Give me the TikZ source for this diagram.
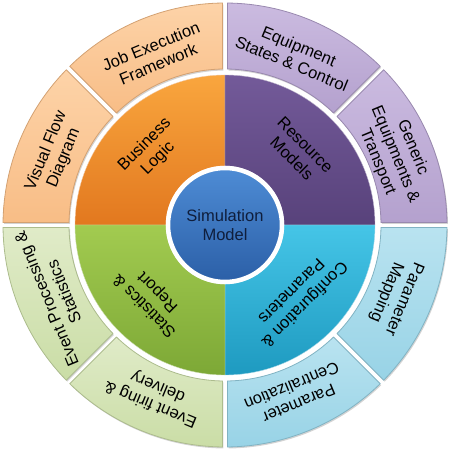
\documentclass[tikz,border=0pt]{standalone}
\usepackage{fontspec}
\setmainfont{Liberation Sans}
\usetikzlibrary{shadows}
\definecolor{OrangeTop}{HTML}{F9A63E}
\definecolor{OrangeBot}{HTML}{E2781F}
\definecolor{PurpleTop}{HTML}{735A99}
\definecolor{PurpleBot}{HTML}{58427B}
\definecolor{CyanTop}{HTML}{45C5E7}
\definecolor{CyanBot}{HTML}{1E9AC0}
\definecolor{GreenTop}{HTML}{A2CB50}
\definecolor{GreenBot}{HTML}{7DA836}
\definecolor{PeachTop}{HTML}{FDD3A8}
\definecolor{PeachBot}{HTML}{F8BD86}
\definecolor{LavTop}{HTML}{CBBBE0}
\definecolor{LavBot}{HTML}{B4A1CE}
\definecolor{SkyTop}{HTML}{B9E3F0}
\definecolor{SkyBot}{HTML}{98D3E6}
\definecolor{LimeTop}{HTML}{E0EBC8}
\definecolor{LimeBot}{HTML}{CADDA6}
\definecolor{CoreTop}{HTML}{4E8CD5}
\definecolor{CoreBot}{HTML}{2B5FA7}
\definecolor{CoreText}{HTML}{0F1E3C}
\tikzset{
  ringtext/.style={
    font=\fontsize{16.5}{19}\selectfont,
    align=center,
    text=black},
  coretext/.style={
    ringtext,
    text=CoreText},
  innerseg/.style={
    draw=white!60!#1, line width=0.4pt},
  outerseg/.style={
    draw=#1, line width=0.8pt,
    drop shadow={shadow xshift=1pt, shadow yshift=-1.5pt, opacity=0.35}},
}
\begin{document}
\begin{tikzpicture}[x=1pt,y=1pt]
  \useasboundingbox (-225,-225) rectangle (225,225);
  % middle ring, four quadrants
  \foreach \a/\ct/\cb in {90/OrangeTop/OrangeBot, 0/PurpleTop/PurpleBot,
      270/CyanTop/CyanBot, 180/GreenTop/GreenBot}
    \shade[top color=\ct, bottom color=\cb, innerseg=\cb]
      (\a:150) arc[start angle=\a, end angle=\a+90, radius=150]
      -- ({\a+90}:59) arc[start angle=\a+90, end angle=\a, radius=59] -- cycle;
  % outer ring, eight segments
  \foreach \a/\ct/\cb in {90/PeachTop/PeachBot, 135/PeachTop/PeachBot,
      0/LavTop/LavBot, 45/LavTop/LavBot,
      270/SkyTop/SkyBot, 315/SkyTop/SkyBot,
      180/LimeTop/LimeBot, 225/LimeTop/LimeBot}
    \shade[top color=\ct, bottom color=\cb, outerseg=\cb!85!black]
      ({\a+0.65}:222) arc[start angle=\a+0.65, end angle=\a+44.35, radius=222]
      -- ({\a+44.08}:156) arc[start angle=\a+44.08, end angle=\a+0.92, radius=156]
      -- cycle;
  % core
  \shade[top color=CoreTop, bottom color=CoreBot, draw=white, line width=4.5pt]
    (0,0) circle[radius=57];
  \node[coretext] (SimModel) at (0,0) {Simulation\\Model};
  % middle ring labels
  \node[ringtext, rotate=45] (BusinessLogic) at (135:104) {Business\\Logic};
  \node[ringtext, rotate=-45] (ResourceModels) at (45:104) {Resource\\Models};
  \node[ringtext, rotate=-135] (ConfigParams) at (-45:104) {Configuration \&\\Parameters};
  \node[ringtext, rotate=135] (StatsReport) at (225:104) {Statistics \&\\Report};
  % outer ring labels
  \node[ringtext, rotate=22.5] (JobExecution) at (112.5:184) {Job Execution\\Framework};
  \node[ringtext, rotate=67.5] (VisualFlow) at (157.5:184) {Visual Flow\\Diagram};
  \node[ringtext, rotate=-22.5] (EquipStates) at (67.5:184) {Equipment\\States \& Control};
  \node[ringtext, rotate=-67.5] (GenericEquip) at (22.5:184) {Generic\\Equipments \&\\Transport};
  \node[ringtext, rotate=-112.5] (ParamMapping) at (-22.5:184) {Parameter\\Mapping};
  \node[ringtext, rotate=-157.5] (ParamCentral) at (-67.5:184) {Parameter\\Centralization};
  \node[ringtext, rotate=157.5] (EventFiring) at (-112.5:184) {Event firing \&\\delivery};
  \node[ringtext, rotate=112.5] (EventProcessing) at (202.5:184) {Event Processing \&\\Statistics};
\end{tikzpicture}
\end{document}
